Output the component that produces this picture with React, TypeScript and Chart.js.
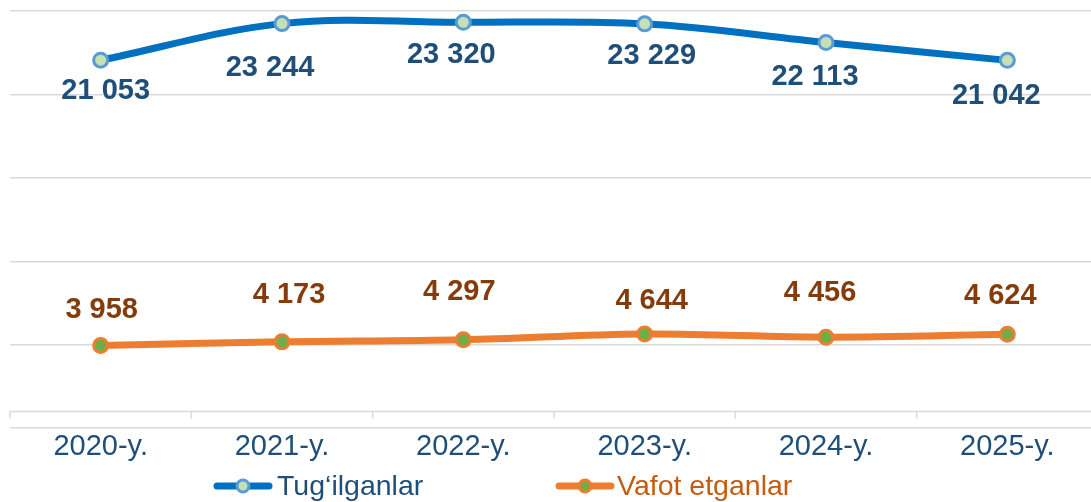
import React, { useEffect, useRef } from "react";
import { Chart, registerables } from "chart.js";

Chart.register(...registerables);

const CATEGORIES = ["2020-y.", "2021-y.", "2022-y.", "2023-y.", "2024-y.", "2025-y."];
const BIRTHS = [21053, 23244, 23320, 23229, 22113, 21042];
const DEATHS = [3958, 4173, 4297, 4644, 4456, 4624];
const SERIES_NAMES = ["Tug‘ilganlar", "Vafot etganlar"];
const Y_MIN = -1000;
const Y_MAX = 24000;
const Y_STEP = 5000;

// label offsets relative to each point (dx, dy), styling only
const BIRTH_LABEL_OFFSETS = [[5, 31], [-12, 44], [-12, 33], [7, 32], [-11, 35], [-11, 36]];
const DEATH_LABEL_OFFSETS = [[1, -35], [7, -47], [-4, -48], [7, -33], [-6, -44], [-7, -38]];

const FONT = '"Liberation Sans", Arial, sans-serif';
const BLUE = "#0070C0";
const BLUE_MARK_BORDER = "#5B9BD5";
const BLUE_MARK_FILL = "#C5E0B4";
const ORANGE = "#ED7D31";
const ORANGE_MARK_FILL = "#70AD47";
const BLUE_TEXT = "#1F4E79";
const BROWN_TEXT = "#843C0C";
const ORANGE_TEXT = "#C55A11";
const GRID = "#D9D9D9";

const fmt = (n: number) => String(n).replace(/\B(?=(\d{3})+(?!\d))/g, " ");

const zeroAxisPlugin = {
  id: "zeroAxis",
  beforeDatasetsDraw(chart: any) {
    const { ctx, chartArea, scales } = chart;
    const x = scales.x;
    const y = scales.y;
    const y0 = y.getPixelForValue(0);
    ctx.save();
    ctx.strokeStyle = GRID;
    ctx.lineWidth = 1.5;
    ctx.beginPath();
    ctx.moveTo(chartArea.left, y0);
    ctx.lineTo(chartArea.right, y0);
    const step = x.getPixelForValue(1) - x.getPixelForValue(0);
    for (let i = 0; i <= CATEGORIES.length; i++) {
      const bx = x.getPixelForValue(0) - step / 2 + i * step;
      ctx.moveTo(bx, y0);
      ctx.lineTo(bx, y0 + 7);
    }
    ctx.stroke();
    ctx.restore();
  },
};

const dataLabelPlugin = {
  id: "dataLabels",
  afterDatasetsDraw(chart: any) {
    const { ctx } = chart;
    ctx.save();
    ctx.font = `bold 29px ${FONT}`;
    ctx.textAlign = "center";
    ctx.textBaseline = "middle";
    chart.data.datasets.forEach((ds: any, di: number) => {
      const meta = chart.getDatasetMeta(di);
      const offs = di === 0 ? BIRTH_LABEL_OFFSETS : DEATH_LABEL_OFFSETS;
      ctx.fillStyle = di === 0 ? BLUE_TEXT : BROWN_TEXT;
      meta.data.forEach((pt: any, i: number) => {
        ctx.fillText(fmt(ds.data[i]), pt.x + offs[i][0], pt.y + offs[i][1]);
      });
    });
    ctx.restore();
  },
};

function drawLegendMarker(ctx: CanvasRenderingContext2D, cx: number, cy: number, line: string, border: string, fill: string) {
  ctx.save();
  ctx.strokeStyle = line;
  ctx.lineWidth = 7;
  ctx.lineCap = "round";
  ctx.beginPath();
  ctx.moveTo(cx - 26, cy);
  ctx.lineTo(cx + 26, cy);
  ctx.stroke();
  ctx.beginPath();
  ctx.arc(cx, cy, 6, 0, Math.PI * 2);
  ctx.fillStyle = fill;
  ctx.fill();
  ctx.lineWidth = 3;
  ctx.strokeStyle = border;
  ctx.stroke();
  ctx.restore();
}

const legendPlugin = {
  id: "customLegend",
  afterDraw(chart: any) {
    const { ctx } = chart;
    const cy = 486;
    const baseline = 495;
    ctx.save();
    ctx.font = `28.5px ${FONT}`;
    ctx.textBaseline = "alphabetic";
    ctx.textAlign = "left";
    drawLegendMarker(ctx, 243, cy, BLUE, BLUE_MARK_BORDER, BLUE_MARK_FILL);
    ctx.fillStyle = BLUE_TEXT;
    ctx.fillText(chart.data.datasets[0].label, 277, baseline);
    drawLegendMarker(ctx, 585, cy, ORANGE, ORANGE, ORANGE_MARK_FILL);
    ctx.fillStyle = ORANGE_TEXT;
    ctx.fillText(chart.data.datasets[1].label, 617, baseline);
    ctx.restore();
  },
};

export default function App() {
  const ref = useRef<HTMLCanvasElement | null>(null);
  useEffect(() => {
    if (!ref.current) return;
    const chart = new Chart(ref.current, {
      type: "line",
      data: {
        labels: CATEGORIES,
        datasets: [
          {
            label: SERIES_NAMES[0],
            data: BIRTHS,
            borderColor: BLUE,
            borderWidth: 7,
            tension: 0.35,
            pointRadius: 7,
            pointBorderWidth: 3,
            pointBackgroundColor: BLUE_MARK_FILL,
            pointBorderColor: BLUE_MARK_BORDER,
            clip: false as any,
          },
          {
            label: SERIES_NAMES[1],
            data: DEATHS,
            borderColor: ORANGE,
            borderWidth: 7,
            tension: 0.35,
            pointRadius: 7,
            pointBorderWidth: 3,
            pointBackgroundColor: ORANGE_MARK_FILL,
            pointBorderColor: ORANGE,
            clip: false as any,
          },
        ],
      },
      options: {
        animation: false,
        responsive: true,
        maintainAspectRatio: false,
        layout: { padding: { left: 8, right: 0, top: 11, bottom: 37 } },
        plugins: {
          legend: { display: false },
          tooltip: { enabled: false },
        },
        scales: {
          x: {
            offset: true,
            grid: { display: false, drawTicks: false },
            border: { display: false },
            ticks: { color: BLUE_TEXT, font: { family: FONT, size: 29 }, padding: 1, maxRotation: 0 },
          },
          y: {
            min: Y_MIN,
            max: Y_MAX,
            ticks: { stepSize: Y_STEP, display: false },
            grid: { color: GRID, lineWidth: 1.5, drawTicks: false },
            border: { display: false },
          },
        },
      },
      plugins: [zeroAxisPlugin, dataLabelPlugin, legendPlugin],
    });
    return () => chart.destroy();
  }, []);
  return (
    <div style={{ position: "fixed", left: 0, top: 0, width: 1108, height: 502, background: "#fff" }}>
      <canvas ref={ref} />
    </div>
  );
}
